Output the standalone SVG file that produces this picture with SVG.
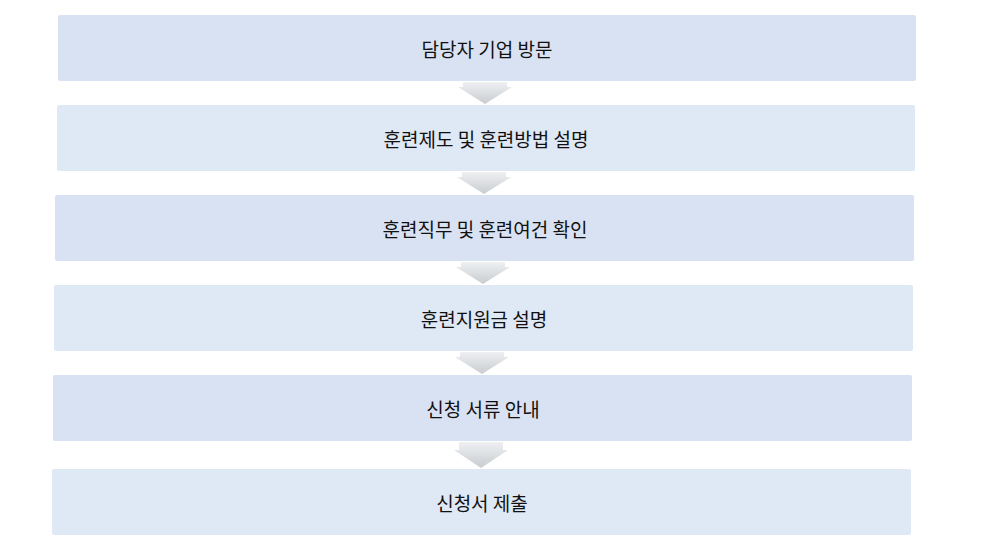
<svg xmlns="http://www.w3.org/2000/svg" width="1000" height="550" viewBox="0 0 1000 550">
<style>
.a{fill:#d9e2f3}.b{fill:#dfe8f5}
text{font-family:"Noto Sans CJK KR","Noto Sans",sans-serif;font-size:19px;fill:#111;text-anchor:middle;dominant-baseline:central}
.arr{fill:url(#g)}
</style>
<defs><linearGradient id="g" x1="0" y1="0" x2="0" y2="1"><stop offset="0" stop-color="#eef0f2"/><stop offset="1" stop-color="#c9ccd0"/></linearGradient></defs>
<g id="connectors">
<polygon class="arr" points="463,82 507,82 507,87 512,87 485,104 458,87 463,87"/>
<polygon class="arr" points="462,172 506,172 506,177 511,177 484,194 457,177 462,177"/>
<polygon class="arr" points="461,262 505,262 505,267 510,267 483,284 456,267 461,267"/>
<polygon class="arr" points="460,352 504,352 504,357 509,357 482,374 455,357 460,357"/>
<polygon class="arr" points="459,442 503,442 503,450 508,450 481,468 454,450 459,450"/>
</g>
<g id="n1"><rect class="a" x="58" y="15" width="858" height="66" rx="2"/><text x="487" y="48">담당자 기업 방문</text></g>
<g id="n2"><rect class="b" x="57" y="105" width="858" height="66" rx="2"/><text x="486" y="138">훈련제도 및 훈련방법 설명</text></g>
<g id="n3"><rect class="a" x="55" y="195" width="859" height="66" rx="2"/><text x="485" y="228">훈련직무 및 훈련여건 확인</text></g>
<g id="n4"><rect class="b" x="54" y="285" width="859" height="66" rx="2"/><text x="484" y="318">훈련지원금 설명</text></g>
<g id="n5"><rect class="a" x="53" y="375" width="859" height="66" rx="2"/><text x="483" y="408">신청 서류 안내</text></g>
<g id="n6"><rect class="b" x="52" y="469" width="859" height="66" rx="2"/><text x="482" y="502">신청서 제출</text></g>
</svg>
